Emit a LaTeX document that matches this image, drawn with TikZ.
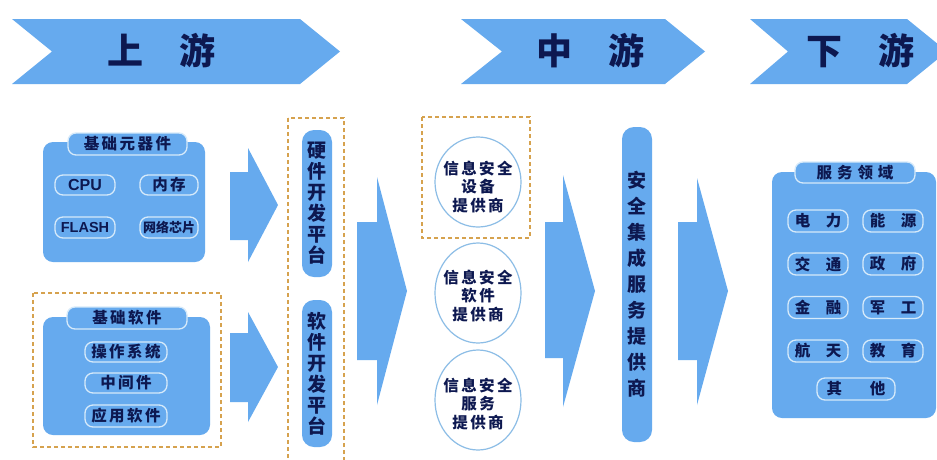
\documentclass[tikz,border=0pt]{standalone}
\usepackage{fontspec}
\usetikzlibrary{shapes.geometric}
\newfontfamily\cjk{Noto Sans CJK SC}
\newfontfamily\latn{Liberation Sans}
\newcommand\kg{\hspace{2.5pt}}
\definecolor{fillblue}{HTML}{66AAEE}
\definecolor{navy}{HTML}{0D1850}
\definecolor{dashorange}{HTML}{D6A24E}
\definecolor{rimwhite}{HTML}{D6EAFA}
\definecolor{ringblue}{HTML}{8CBDE6}
\tikzset{
  banner/.style={fill=fillblue},
  bannertext/.style={text=navy, font=\cjk\bfseries\fontsize{36}{40}\selectfont, inner sep=0},
  panel/.style={fill=fillblue, rounded corners=10pt, inner sep=0},
  tabbox/.style={fill=fillblue, draw=rimwhite, line width=1.3pt, rounded corners=8pt, inner sep=0,
    text=navy, font=\cjk\bfseries\fontsize{15.5}{18}\selectfont},
  btn/.style={fill=fillblue, draw=rimwhite, line width=1.3pt, rounded corners=8pt, inner sep=0,
    text=navy, font=\cjk\bfseries\fontsize{15.5}{18}\selectfont},
  pill/.style={fill=fillblue, rounded corners=12pt, inner sep=0, align=center,
    text=navy, font=\cjk\bfseries\fontsize{19}{21}\selectfont},
  ring/.style={ellipse, fill=white, draw=ringblue, line width=1.2pt, inner sep=0},
  ringtext/.style={inner sep=0, align=center, text=navy, font=\cjk\bfseries\fontsize{15.5}{18.5}\selectfont},
  dashbox/.style={draw=dashorange, dash pattern=on 4pt off 3pt, line width=1.1pt},
  bigarrow/.style={fill=fillblue}
}
\begin{document}
\begin{tikzpicture}[x=1pt,y=-1pt]
\clip (0,0) rectangle (937,459);
\fill[white] (0,0) rectangle (937,459);

% banners
\fill[banner] (12,19) -- (300,19) -- (340,51.5) -- (300,84) -- (12,84) -- (52,51.5) -- cycle;
\node[bannertext] (up) at (161,51) {上\hspace{1em}游};
\fill[banner] (461,19) -- (665,19) -- (705,51.5) -- (665,84) -- (461,84) -- (502,51.5) -- cycle;
\node[bannertext] (mid) at (590,51) {中\hspace{1em}游};
\fill[banner] (750,19) -- (907,19) -- (947,51.5) -- (907,84) -- (750,84) -- (788,51.5) -- cycle;
\node[bannertext] (down) at (860,51) {下\hspace{1em}游};

% top-left panel
\node[panel, minimum width=162, minimum height=120] (hwpanel) at (124,202) {};
\node[tabbox, minimum width=119, minimum height=22] (hwtab) at (127.5,144) {基\kg 础\kg 元\kg 器\kg 件};
\node[btn, minimum width=60, minimum height=20, font=\latn\bfseries\fontsize{16}{18}\selectfont] (cpu) at (85,185) {CPU};
\node[btn, minimum width=60, minimum height=21, font=\latn\bfseries\fontsize{14.5}{16}\selectfont] (flash) at (85,227.5) {FLASH};
\node[btn, minimum width=58, minimum height=20] (mem) at (169,185) {内\kg 存};
\node[btn, minimum width=58, minimum height=21, font=\cjk\bfseries\fontsize{13}{15}\selectfont] (net) at (169,227.5) {网络芯片};

% bottom-left panel
\draw[dashbox] (33,293) rectangle (221,447);
\node[panel, minimum width=167, minimum height=118] (swpanel) at (126.5,376) {};
\node[tabbox, minimum width=120, minimum height=22] (swtab) at (127,318) {基\kg 础\kg 软\kg 件};
\node[btn, minimum width=82, minimum height=20] (os) at (126,352) {操\kg 作\kg 系\kg 统};
\node[btn, minimum width=82, minimum height=20] (mw) at (126,383) {中\kg 间\kg 件};
\node[btn, minimum width=82, minimum height=22] (app) at (126,416) {应\kg 用\kg 软\kg 件};

% arrows to platforms
\fill[bigarrow] (230,172) -- (248,172) -- (248,148) -- (278,205) -- (248,262) -- (248,240) -- (230,240) -- cycle;
\fill[bigarrow] (230,333) -- (248,333) -- (248,312) -- (278,367) -- (248,422) -- (248,402) -- (230,402) -- cycle;

% platforms
\draw[dashbox] (288,118) rectangle (344,475);
\node[pill, minimum width=30, minimum height=147] (hwplat) at (317,203.5) {硬\\件\\开\\发\\平\\台};
\node[pill, minimum width=30, minimum height=147] (swplat) at (317,373.5) {软\\件\\开\\发\\平\\台};

% arrow 3
\fill[bigarrow] (357,222) -- (377,222) -- (377,177) -- (407,291) -- (377,405) -- (377,360) -- (357,360) -- cycle;

% providers
\draw[dashbox] (422,117) rectangle (530,238);
\node[ring, minimum width=86, minimum height=90] (dev) at (478,182) {};
\node[ringtext] (devtext) at (478,187) {信\kg 息\kg 安\kg 全\\设\kg 备\\提\kg 供\kg 商};
\node[ring, minimum width=86, minimum height=100] (soft) at (478,293) {};
\node[ringtext] (softtext) at (478,296) {信\kg 息\kg 安\kg 全\\软\kg 件\\提\kg 供\kg 商};
\node[ring, minimum width=86, minimum height=100] (serv) at (478,400) {};
\node[ringtext] (servtext) at (478,404) {信\kg 息\kg 安\kg 全\\服\kg 务\\提\kg 供\kg 商};

% arrow 4
\fill[bigarrow] (545,222) -- (563,222) -- (563,175) -- (595,291) -- (563,407) -- (563,358) -- (545,358) -- cycle;

% integration pill
\node[pill, minimum width=30, minimum height=315, font=\cjk\bfseries\fontsize{19}{26}\selectfont] (integ) at (637,284.5) {安\\全\\集\\成\\服\\务\\提\\供\\商};

% arrow 5
\fill[bigarrow] (678,222) -- (697,222) -- (697,178) -- (728,291) -- (697,405) -- (697,360) -- (678,360) -- cycle;

% service domains
\node[panel, minimum width=164, minimum height=246] (dompanel) at (854,295) {};
\node[tabbox, minimum width=120, minimum height=21] (domtab) at (855,172.5) {服\hspace{5pt}务\hspace{5pt}领\hspace{5pt}域};
\node[btn, minimum width=60, minimum height=22] (power) at (818,221) {电\hspace{1em}力};
\node[btn, minimum width=60, minimum height=22] (energy) at (893,221) {能\hspace{1em}源};
\node[btn, minimum width=60, minimum height=22] (traffic) at (818,264) {交\hspace{1em}通};
\node[btn, minimum width=60, minimum height=22] (gov) at (893,264) {政\hspace{1em}府};
\node[btn, minimum width=60, minimum height=22] (fin) at (818,307.5) {金\hspace{1em}融};
\node[btn, minimum width=60, minimum height=22] (mil) at (893,307.5) {军\hspace{1em}工};
\node[btn, minimum width=60, minimum height=22] (aero) at (818,351) {航\hspace{1em}天};
\node[btn, minimum width=60, minimum height=22] (edu) at (893,351) {教\hspace{1em}育};
\node[btn, minimum width=78, minimum height=22] (other) at (856,389) {其\hspace{1.8em}他};
\end{tikzpicture}
\end{document}
